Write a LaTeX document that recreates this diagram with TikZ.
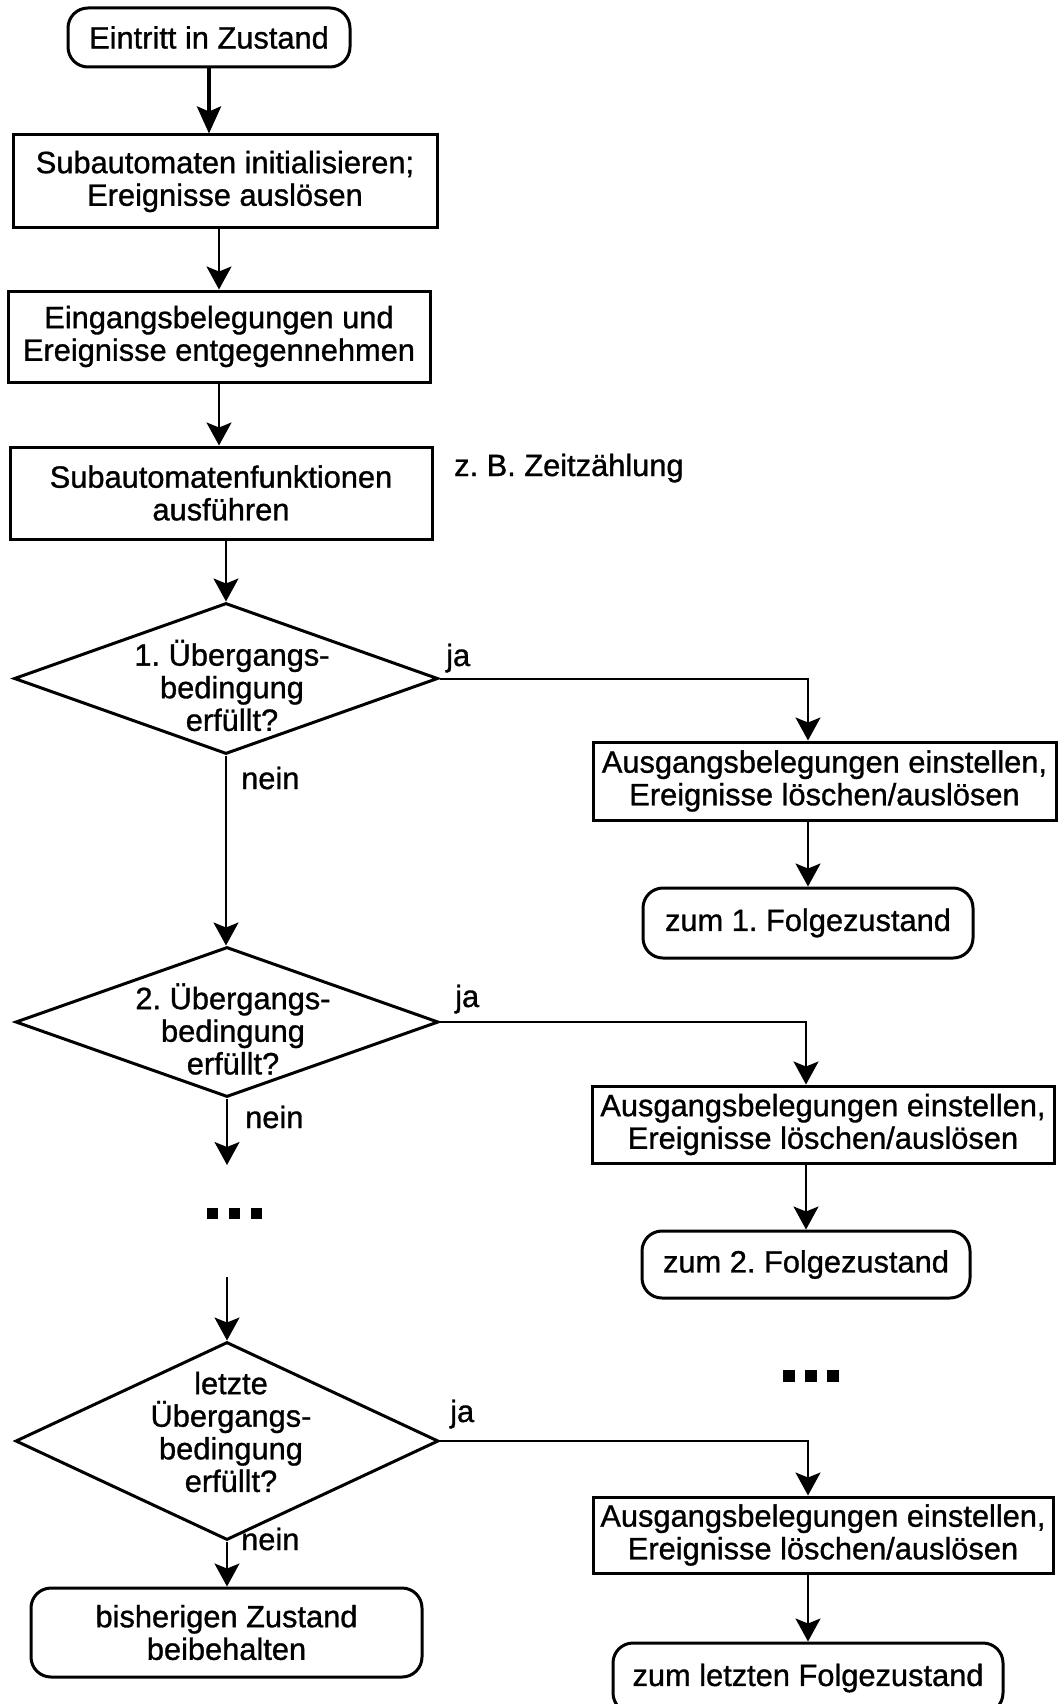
\documentclass[tikz,border=0pt]{standalone}
\usepackage{fontspec}
\setmainfont{Liberation Sans}[FakeBold=1]
\frenchspacing
\usetikzlibrary{arrows.meta,shapes.geometric,calc}
\begin{document}
\begin{tikzpicture}[x=1pt,y=-1pt,
  every node/.style={font=\fontsize{30.8}{32.6}\selectfont\frenchspacing},
  box/.style={draw,line width=3pt,rectangle,inner sep=0pt,align=center},
  term/.style={draw,line width=3pt,rectangle,rounded corners=20pt,inner sep=0pt,align=center},
  dia/.style={draw,line width=3pt,diamond,inner sep=0pt},
  dtext/.style={align=center,inner sep=0pt},
  lbl/.style={inner sep=0pt,anchor=base west},
  arr/.style={line width=2pt,-{Stealth[length=23pt,width=25pt,inset=5pt]}},
  thickarr/.style={line width=4pt,-{Stealth[length=27pt,width=24pt,inset=5pt]}},
  dotsq/.style={fill=black,draw=none}
]
\useasboundingbox (0,0) rectangle (1058,1704);

% left column
\node[term,minimum width=282pt,minimum height=59pt] (t0) at (209,37.5) {Eintritt in Zustand};
\node[box,minimum width=424pt,minimum height=93pt] (b1) at (225,181.5) {Subautomaten initialisieren;\\Ereignisse auslösen};
\node[box,minimum width=422pt,minimum height=91pt] (b2) at (219,336.5) {Eingangsbelegungen und\\Ereignisse entgegennehmen};
\node[box,minimum width=422pt,minimum height=92pt] (b3) at (221,493) {Subautomatenfunktionen\\ausführen};
\node[lbl] (zb) at (454,476) {z. B. Zeitzählung};

\node[dia,minimum width=424pt,minimum height=151pt] (d1) at (226,678.5) {};
\node[dtext] (d1t) at (232,685.5) {1. Übergangs-\\bedingung\\erfüllt?};
\node[dia,minimum width=423pt,minimum height=150pt] (d2) at (227,1022) {};
\node[dtext] (d2t) at (233,1029) {2. Übergangs-\\bedingung\\erfüllt?};
\node[dia,minimum width=423pt,minimum height=198pt] (d3) at (227,1441) {};
\node[dtext] (d3t) at (231,1432) {letzte\\Übergangs-\\bedingung\\erfüllt?};
\node[term,minimum width=391pt,minimum height=89pt] (tb) at (226.5,1632.5) {bisherigen Zustand\\beibehalten};

% right column
\node[box,minimum width=463pt,minimum height=78pt] (a1) at (824.5,781) {Ausgangsbelegungen einstellen,\\Ereignisse löschen/auslösen};
\node[term,minimum width=330pt,minimum height=70pt] (t1) at (808,923) {zum 1. Folgezustand};
\node[box,minimum width=462pt,minimum height=77pt] (a2) at (823,1124.5) {Ausgangsbelegungen einstellen,\\Ereignisse löschen/auslösen};
\node[term,minimum width=328pt,minimum height=67pt] (t2) at (806,1264.5) {zum 2. Folgezustand};
\node[box,minimum width=460pt,minimum height=76pt] (a3) at (823,1535) {Ausgangsbelegungen einstellen,\\Ereignisse löschen/auslösen};
\node[term,minimum width=390pt,minimum height=70pt] (t3) at (808,1678) {zum letzten Folgezustand};

% labels
\node[lbl] (ja1) at (446,666) {ja};
\node[lbl] (nein1) at (241,789) {nein};
\node[lbl] (ja2) at (455,1007) {ja};
\node[lbl] (nein2) at (245,1128) {nein};
\node[lbl] (ja3) at (450,1422) {ja};
\node[lbl] (nein3) at (241,1550) {nein};

% connectors left
\draw[thickarr] (t0.south) -- (t0.south |- b1.north);
\draw[arr] (b2.north |- b1.south) -- (b2.north);
\draw[arr] (b2.south) -- (b2.south |- b3.north);
\draw[arr] (d1.north |- b3.south) -- (d1.north);
\draw[arr] (d1.south) -- (d1.south |- d2.north);
\coordinate (e2) at (228,1165);
\draw[arr] (d2.south) -- (d2.south |- e2);
\coordinate (s3) at (227,1277);
\draw[arr] (s3 -| d3.north) -- (d3.north);
\draw[arr] (d3.south) -- (d3.south |- tb.north);

% connectors right
\draw[arr] (d1.east) -| (a1.north -| t1.north);
\draw[arr] (a1.south -| t1.north) -- (t1.north);
\draw[arr] (d2.east) -| (a2.north -| t2.north);
\draw[arr] (a2.south -| t2.north) -- (t2.north);
\draw[arr] (d3.east) -| (a3.north -| t3.north);
\draw[arr] (a3.south -| t3.north) -- (t3.north);

% ellipsis dots
\fill[dotsq] (207,1208) rectangle ++(11,11);
\fill[dotsq] (229,1208) rectangle ++(11,11);
\fill[dotsq] (251,1208) rectangle ++(11,11);
\fill[dotsq] (783,1370) rectangle ++(12,12);
\fill[dotsq] (805,1370) rectangle ++(12,12);
\fill[dotsq] (827,1370) rectangle ++(12,12);
\end{tikzpicture}
\end{document}
